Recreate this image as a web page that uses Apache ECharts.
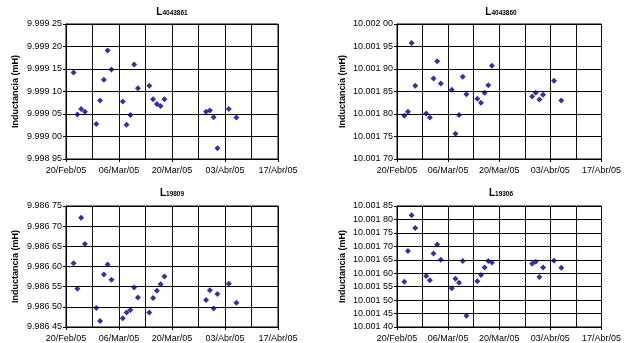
<!DOCTYPE html>
<html>
<head>
<meta charset="utf-8">
<script src="https://cdn.jsdelivr.net/npm/echarts@6/dist/echarts.min.js"></script>
<style>
html,body{margin:0;padding:0;background:#fff;}
#c{width:624px;height:343px;}
</style>
</head>
<body>
<div id="c"></div>
<script>
// Measurement dates (2005)
var dates = ['2005-02-22','2005-02-23','2005-02-24','2005-02-25','2005-02-28',
  '2005-03-01','2005-03-02','2005-03-03','2005-03-04','2005-03-07',
  '2005-03-08','2005-03-09','2005-03-10','2005-03-11','2005-03-14',
  '2005-03-15','2005-03-16','2005-03-17','2005-03-18','2005-03-29',
  '2005-03-30','2005-03-31','2005-04-01','2005-04-04','2005-04-06'];

var xTickLabels = ['20/Feb/05','06/Mar/05','20/Mar/05','03/Abr/05','17/Abr/05'];

var titles = ['4043861','4043860','19809','19306'];

var valuesL4043861 = [9.999142,9.999049,9.999061,9.999055,9.999028,
  9.999080,9.999126,9.999191,9.999149,9.999078,
  9.999026,9.999048,9.999160,9.999107,9.999113,
  9.999083,9.999072,9.999068,9.999083,9.999055,
  9.999058,9.999043,9.998974,9.999061,9.999042];

var valuesL4043860 = [10.001796,10.001805,10.001958,10.001863,10.001801,
  10.001792,10.001879,10.001917,10.001868,10.001854,
  10.001756,10.001798,10.001883,10.001844,10.001834,
  10.001825,10.001847,10.001864,10.001907,10.001839,
  10.001847,10.001832,10.001843,10.001874,10.001830];

var valuesL19809 = [9.986608,9.986545,9.986721,9.986656,9.986497,
  9.986465,9.986580,9.986605,9.986567,9.986472,
  9.986486,9.986492,9.986548,9.986523,9.986486,
  9.986522,9.986540,9.986556,9.986575,9.986517,
  9.986541,9.986496,9.986532,9.986557,9.986510];

var valuesL19306 = [10.001568,10.001683,10.001816,10.001768,10.001590,
  10.001574,10.001673,10.001707,10.001650,10.001544,
  10.001579,10.001565,10.001645,10.001442,10.001570,
  10.001593,10.001621,10.001645,10.001640,10.001635,
  10.001643,10.001586,10.001621,10.001646,10.001620];

var yMins = [9.99895, 10.00170, 9.98645, 10.00140];
var yMaxs = [9.99925, 10.00200, 9.98675, 10.00185];
var yStep = 0.00005;

var allValues = [valuesL4043861, valuesL4043860, valuesL19809, valuesL19306];

var base = Date.UTC(2005,1,20);
function dayOf(s){ var p=s.split('-'); return (Date.UTC(+p[0],+p[1]-1,+p[2])-base)/86400000; }
var days = dates.map(dayOf);

var grids = [
  {left:66, top:24, width:212, height:135},
  {left:397, top:24, width:208, height:135},
  {left:66, top:206, width:212, height:121},
  {left:397, top:206, width:208, height:121}
];
var titlePos = [{x:172,y:5},{x:501,y:5},{x:172,y:186},{x:501,y:186}];

var FONT = 'Liberation Sans, Arial, sans-serif';
var gridOpt=[], xAxes=[], yAxes=[], series=[], titleOpt=[];
for (var i=0;i<4;i++){
  gridOpt.push(Object.assign({show:true, borderColor:'#000', borderWidth:1, backgroundColor:'#fff'}, grids[i]));
  xAxes.push({
    type:'value', gridIndex:i, min:0, max:56, interval:14,
    axisLine:{show:true, onZero:false, lineStyle:{color:'#000',width:1}},
    axisTick:{show:true, length:3, lineStyle:{color:'#000'}},
    minorTick:{show:false, splitNumber:2},
    minorSplitLine:{show:true, lineStyle:{color:'#111',width:1}},
    splitLine:{show:true, lineStyle:{color:'#111',width:1}},
    axisLabel:{fontSize:9, fontFamily:FONT, color:'#000', margin:7,
      formatter:function(v){ return xTickLabels[Math.round(v/14)] || ''; }}
  });
  yAxes.push({
    type:'value', gridIndex:i, min:yMins[i], max:yMaxs[i], interval:yStep,
    name:'Inductancia (mH)', nameLocation:'middle', nameGap:i%2===0?46:50,
    nameTextStyle:{fontSize:9, fontWeight:'bold', fontFamily:FONT, color:'#000'},
    axisLine:{show:true, onZero:false, lineStyle:{color:'#000',width:1}},
    axisTick:{show:true, length:3, lineStyle:{color:'#000'}},
    splitLine:{show:true, lineStyle:{color:'#000',width:1}},
    axisLabel:{fontSize:9, fontFamily:FONT, color:'#000', margin:4,
      formatter:function(v){ var s=v.toFixed(5); return s.slice(0,-2)+' '+s.slice(-2); }}
  });
  series.push({
    type:'scatter', xAxisIndex:i, yAxisIndex:i,
    symbol:'diamond', symbolSize:6,
    itemStyle:{color:'#000080'},
    data: days.map(function(d,k){ return [d, allValues[i][k]]; })
  });
  titleOpt.push({
    text:'{a|L}{b|'+titles[i]+'}',
    left:titlePos[i].x, top:titlePos[i].y, textAlign:'center',
    padding:0,
    textStyle:{rich:{
      a:{fontSize:10, fontWeight:'bold', fontFamily:FONT, color:'#000', lineHeight:12, verticalAlign:'bottom'},
      b:{fontSize:6.5, fontWeight:'bold', fontFamily:FONT, color:'#000', lineHeight:12, verticalAlign:'bottom', padding:[3,0,0,0]}
    }}
  });
}

var chart = echarts.init(document.getElementById('c'), null, {renderer:'canvas'});
chart.setOption({
  backgroundColor:'#fff',
  animation:false,
  title:titleOpt,
  grid:gridOpt,
  xAxis:xAxes,
  yAxis:yAxes,
  series:series
});
</script>
</body>
</html>
